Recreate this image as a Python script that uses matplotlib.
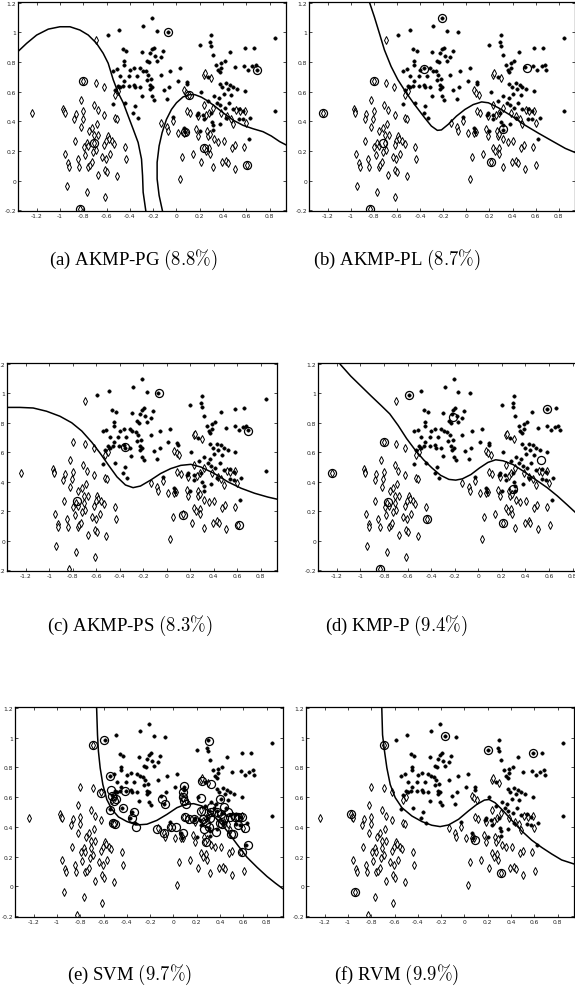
import matplotlib
matplotlib.use('Agg')
import matplotlib.pyplot as plt

plt.rcParams['mathtext.fontset'] = 'cm'

W, H = 575, 995

# ---------------- data ----------------
# class 1 (filled dots)
class1 = [
    (-0.209, 1.094), (-0.286, 1.042), (-0.171, 1.009), (-0.071, 1.002), (-0.490, 1.015), (-0.590, 0.985),
    (-0.463, 0.888), (-0.429, 0.875), (-0.297, 0.866), (-0.214, 0.886), (-0.194, 0.897), (-0.223, 0.859),
    (-0.117, 0.877), (-0.183, 0.844), (-0.137, 0.833), (-0.249, 0.810), (-0.234, 0.801), (-0.171, 0.808),
    (-0.451, 0.804), (-0.449, 0.779), (-0.514, 0.754), (-0.543, 0.741), (-0.366, 0.759), (-0.314, 0.757),
    (-0.291, 0.741), (-0.400, 0.746), (-0.263, 0.737), (-0.243, 0.714), (-0.137, 0.714), (-0.057, 0.741),
    (0.029, 0.757), (-0.486, 0.703), (-0.411, 0.703), (-0.343, 0.703), (-0.449, 0.670), (-0.254, 0.679),
    (-0.217, 0.685), (-0.457, 0.641), (-0.409, 0.641), (-0.363, 0.647), (-0.357, 0.632), (-0.486, 0.632),
    (-0.529, 0.614), (-0.500, 0.640), (-0.314, 0.632), (-0.229, 0.643), (-0.206, 0.632), (-0.223, 0.618),
    (-0.111, 0.609), (-0.060, 0.632), (0.011, 0.670), (0.089, 0.665), (0.094, 0.650), (-0.300, 0.574),
    (-0.206, 0.569), (-0.080, 0.551), (-0.191, 0.547), (-0.440, 0.525), (-0.546, 0.518), (-0.354, 0.502),
    (-0.369, 0.458), (-0.334, 0.424),
    (0.300, 0.982), (0.291, 0.933), (0.297, 0.908), (0.200, 0.917), (0.314, 0.848), (0.460, 0.871),
    (0.586, 0.893), (0.663, 0.897), (0.846, 0.960), (0.343, 0.781), (0.386, 0.792), (0.414, 0.804),
    (0.506, 0.766), (0.580, 0.775), (0.614, 0.748), (0.651, 0.770), (0.680, 0.781), (0.691, 0.748),
    (0.386, 0.759), (0.357, 0.743), (0.371, 0.730), (0.271, 0.699), (0.371, 0.654), (0.429, 0.658),
    (0.463, 0.647), (0.486, 0.632), (0.394, 0.632), (0.440, 0.618), (0.520, 0.618), (0.586, 0.603),
    (0.471, 0.580), (0.406, 0.587), (0.366, 0.556), (0.320, 0.569), (0.211, 0.600), (0.274, 0.540),
    (0.349, 0.525), (0.377, 0.507), (0.451, 0.525), (0.414, 0.491), (0.486, 0.480), (0.537, 0.484),
    (0.571, 0.469), (0.294, 0.458), (0.229, 0.446), (0.186, 0.458), (0.177, 0.446), (0.234, 0.413),
    (0.303, 0.395), (0.314, 0.373), (0.377, 0.384), (0.429, 0.424), (0.537, 0.417), (0.571, 0.413),
    (0.634, 0.424), (0.063, 0.357), (0.074, 0.328), (0.200, 0.335), (0.314, 0.339), (0.623, 0.279),
    (0.849, 0.473), (-0.029, 0.431),
]

# class 0 (open diamonds)
class0 = [
    (-1.237, 0.458), (-0.971, 0.484), (-0.963, 0.469), (-0.960, 0.458), (-0.694, 0.949), (-0.694, 0.658),
    (-0.623, 0.632), (-0.823, 0.547), (-0.800, 0.469), (-0.866, 0.451), (-0.880, 0.413), (-0.806, 0.417),
    (-0.820, 0.362), (-0.709, 0.513), (-0.677, 0.475), (-0.620, 0.446), (-0.529, 0.424), (-0.509, 0.417),
    (-0.686, 0.384), (-0.723, 0.357), (-0.706, 0.306), (-0.671, 0.306), (-0.751, 0.335), (-0.874, 0.268),
    (-0.771, 0.257), (-0.757, 0.234), (-0.706, 0.257), (-0.794, 0.230), (-0.694, 0.208), (-0.720, 0.194),
    (-0.783, 0.174), (-0.954, 0.179), (-0.591, 0.301), (-0.583, 0.283), (-0.606, 0.268), (-0.557, 0.268),
    (-0.534, 0.250), (-0.620, 0.239), (-0.440, 0.230), (-0.571, 0.179), (-0.606, 0.145), (-0.637, 0.161),
    (-0.434, 0.145), (-0.929, 0.116), (-0.923, 0.094), (-0.849, 0.145), (-0.837, 0.094), (-0.757, 0.094),
    (-0.743, 0.107), (-0.729, 0.123), (-0.674, 0.040), (-0.614, 0.074), (-0.597, 0.056), (-0.514, 0.033),
    (-0.943, -0.038), (-0.771, -0.074), (-0.614, -0.112), (-0.831, -0.190), (-0.800, 0.670),
    (-0.529, 0.580), (-0.500, 0.603), (-0.134, 0.391), (-0.080, 0.362), (-0.071, 0.335), (-0.029, 0.402),
    (0.014, 0.324), (0.066, 0.324), (0.080, 0.328), (0.051, 0.161), (0.029, 0.011), (0.066, 0.609),
    (0.086, 0.592), (0.109, 0.580),
    (0.234, 0.714), (0.243, 0.725), (0.300, 0.692), (0.091, 0.469), (0.120, 0.453), (0.186, 0.435),
    (0.257, 0.440), (0.280, 0.458), (0.234, 0.513), (0.314, 0.491), (0.386, 0.458), (0.434, 0.435),
    (0.514, 0.475), (0.543, 0.469), (0.586, 0.473), (0.466, 0.417), (0.486, 0.379), (0.600, 0.391),
    (0.171, 0.346), (0.186, 0.301), (0.263, 0.335), (0.271, 0.301), (0.286, 0.317), (0.320, 0.279),
    (0.357, 0.263), (0.406, 0.268), (0.234, 0.223), (0.251, 0.201), (0.280, 0.217), (0.286, 0.179),
    (0.143, 0.179), (0.214, 0.123), (0.314, 0.089), (0.394, 0.123), (0.429, 0.134), (0.443, 0.118),
    (0.506, 0.078), (0.474, 0.223), (0.500, 0.241), (0.580, 0.230), (0.606, 0.105),
]

# circled (selected basis / support vectors) per panel
circ_a = [(-0.071, 1.002), (0.691, 0.748), (-0.800, 0.670), (-0.706, 0.257), (0.109, 0.580),
          (0.234, 0.223), (0.606, 0.105), (-0.831, -0.190), (0.074, 0.328)]
circ_b = [(-0.209, 1.094), (-0.366, 0.755), (0.521, 0.761), (-0.800, 0.670), (-1.237, 0.458),
          (-0.717, 0.257), (0.214, 0.123), (-0.831, -0.190), (0.321, 0.346)]
circ_c = [(-0.066, 1.000), (-0.351, 0.638), (0.697, 0.744), (-0.760, 0.267), (0.143, 0.178),
          (0.614, 0.104)]
circ_d = [(-0.590, 0.985), (-0.214, 0.838), (0.586, 0.893), (0.533, 0.549), (-0.800, 0.670),
          (-1.237, 0.458), (-0.766, 0.264), (-0.434, 0.145), (0.214, 0.123), (-0.831, -0.190),
          (0.297, 0.349)]
circ_e = [(-0.694, 0.947), (-0.593, 0.984), (0.309, 0.976), (-0.624, 0.629), (-0.543, 0.740),
          (-0.538, 0.651), (-0.529, 0.607), (-0.514, 0.573), (-0.494, 0.584), (-0.543, 0.511),
          (-0.523, 0.429), (-0.506, 0.418), (-0.419, 0.644), (-0.436, 0.524), (-0.341, 0.502),
          (-0.355, 0.462), (-0.321, 0.400), (-0.139, 0.389), (-0.081, 0.362), (-0.095, 0.584),
          (-0.072, 0.556), (-0.017, 0.402), (0.020, 0.402), (0.078, 0.356), (0.092, 0.673),
          (0.084, 0.636), (0.078, 0.602), (0.087, 0.573), (0.107, 0.551), (0.098, 0.467),
          (0.136, 0.451), (0.179, 0.451), (0.237, 0.593), (0.237, 0.507), (0.251, 0.451),
          (0.280, 0.429), (0.324, 0.689), (0.246, 0.711), (0.324, 0.533), (0.318, 0.502),
          (0.312, 0.462), (0.309, 0.396), (0.266, 0.384), (0.280, 0.296), (0.367, 0.369),
          (0.396, 0.584), (0.376, 0.502), (0.410, 0.484), (0.434, 0.533), (0.434, 0.462),
          (0.468, 0.502), (0.483, 0.467), (0.526, 0.467), (0.555, 0.467), (0.584, 0.467),
          (0.555, 0.413), (0.491, 0.351), (0.512, 0.351), (0.584, 0.229), (0.642, 0.280),
          (0.618, 0.391), (0.396, 0.429), (0.416, 0.418)]
circ_f = [(-0.171, 1.009), (-0.694, 0.949), (0.200, 0.917), (0.586, 0.893), (-0.971, 0.484),
          (-0.943, -0.038), (0.314, 0.089), (0.091, 0.311)]

# decision boundaries
bound_a1 = [(-1.36, 0.871), (-1.286, 0.926), (-1.2, 0.982), (-1.1, 1.022), (-1.0, 1.038), (-0.914, 1.038),
            (-0.829, 1.016), (-0.757, 0.982), (-0.686, 0.926), (-0.629, 0.859), (-0.586, 0.792),
            (-0.543, 0.681), (-0.5, 0.592), (-0.457, 0.525), (-0.414, 0.435), (-0.371, 0.346),
            (-0.329, 0.257), (-0.3, 0.145), (-0.291, 0.033), (-0.286, -0.078), (-0.263, -0.205)]
bound_a2 = [(-0.12, -0.205), (-0.149, -0.1), (-0.166, 0.011), (-0.166, 0.123), (-0.149, 0.234),
            (-0.123, 0.324), (-0.086, 0.413), (-0.043, 0.480), (0.0, 0.525), (0.057, 0.565),
            (0.114, 0.580), (0.157, 0.580), (0.214, 0.563), (0.271, 0.536), (0.329, 0.502),
            (0.4, 0.458), (0.486, 0.408), (0.571, 0.373), (0.657, 0.350), (0.743, 0.330),
            (0.814, 0.301), (0.886, 0.263), (0.94, 0.241)]
bound_b = [(-0.838, 1.205), (-0.795, 1.105), (-0.751, 0.993), (-0.708, 0.882), (-0.650, 0.770),
           (-0.592, 0.681), (-0.519, 0.592), (-0.447, 0.513), (-0.360, 0.424), (-0.302, 0.368),
           (-0.250, 0.339), (-0.215, 0.342), (-0.157, 0.379), (-0.085, 0.435), (-0.012, 0.480),
           (0.060, 0.513), (0.133, 0.531), (0.191, 0.525), (0.278, 0.491), (0.394, 0.435),
           (0.510, 0.373), (0.626, 0.319), (0.741, 0.268), (0.857, 0.217), (0.94, 0.190)]
bound_c = [(-1.36, 0.904), (-1.251, 0.904), (-1.137, 0.900), (-1.023, 0.878), (-0.909, 0.844),
           (-0.809, 0.800), (-0.723, 0.744), (-0.637, 0.667), (-0.566, 0.593), (-0.494, 0.511),
           (-0.423, 0.433), (-0.351, 0.378), (-0.286, 0.360), (-0.223, 0.371), (-0.137, 0.411),
           (-0.051, 0.456), (0.034, 0.489), (0.120, 0.511), (0.206, 0.518), (0.291, 0.500),
           (0.406, 0.456), (0.520, 0.400), (0.634, 0.356), (0.749, 0.322), (0.863, 0.296),
           (0.94, 0.282)]
bound_d = [(-1.20, 1.23), (-1.168, 1.193), (-1.082, 1.116), (-0.996, 1.049), (-0.910, 0.982),
           (-0.823, 0.916), (-0.751, 0.860), (-0.680, 0.782), (-0.608, 0.693), (-0.536, 0.616),
           (-0.464, 0.549), (-0.392, 0.493), (-0.320, 0.444), (-0.249, 0.416), (-0.191, 0.411),
           (-0.134, 0.420), (-0.062, 0.449), (0.010, 0.493), (0.082, 0.531), (0.148, 0.549),
           (0.211, 0.542), (0.297, 0.516), (0.384, 0.471), (0.484, 0.416), (0.585, 0.360),
           (0.671, 0.304), (0.757, 0.242), (0.838, 0.182), (0.94, 0.110)]
bound_e = [(-0.66, 1.21), (-0.652, 1.018), (-0.644, 0.907), (-0.629, 0.796), (-0.606, 0.684),
           (-0.572, 0.584), (-0.529, 0.518), (-0.472, 0.467), (-0.400, 0.436), (-0.314, 0.413),
           (-0.228, 0.418), (-0.142, 0.444), (-0.056, 0.484), (0.030, 0.529), (0.101, 0.551),
           (0.173, 0.556), (0.245, 0.540), (0.316, 0.496), (0.388, 0.440), (0.460, 0.373),
           (0.545, 0.284), (0.631, 0.196), (0.717, 0.129), (0.803, 0.067), (0.875, 0.022),
           (0.94, -0.016)]
bound_f = [(-0.71, 1.21), (-0.703, 1.018), (-0.686, 0.907), (-0.666, 0.796), (-0.637, 0.684),
           (-0.594, 0.596), (-0.537, 0.529), (-0.451, 0.473), (-0.366, 0.436), (-0.280, 0.411),
           (-0.209, 0.402), (-0.137, 0.413), (-0.051, 0.451), (0.034, 0.507), (0.106, 0.551),
           (0.171, 0.580), (0.211, 0.584), (0.263, 0.562), (0.334, 0.507), (0.406, 0.444),
           (0.491, 0.373), (0.577, 0.311), (0.663, 0.262), (0.749, 0.218), (0.834, 0.178),
           (0.94, 0.151)]

captions = [r"(a) AKMP-PG $(8.8\%)$", r"(b) AKMP-PL $(8.7\%)$", r"(c) AKMP-PS $(8.3\%)$",
            r"(d) KMP-P $(9.4\%)$", r"(e) SVM $(9.7\%)$", r"(f) RVM $(9.9\%)$"]

xticks = [-1.2, -1.0, -0.8, -0.6, -0.4, -0.2, 0.0, 0.2, 0.4, 0.6, 0.8]
xticklabels = ["-1.2", "-1", "-0.8", "-0.6", "-0.4", "-0.2", "0", "0.2", "0.4", "0.6", "0.8"]
yticks = [-0.2, 0.0, 0.2, 0.4, 0.6, 0.8, 1.0, 1.2]
yticklabels = ["-0.2", "0", "0.2", "0.4", "0.6", "0.8", "1", "1.2"]

# ---------------- layout (pixels: left, top, width, height) ----------------
panels = [
    dict(rect=(18, 3, 268, 209), circ=circ_a, bounds=[bound_a1, bound_a2], cap=(133, 260)),
    dict(rect=(309, 3, 266, 209), circ=circ_b, bounds=[bound_b], cap=(397, 260)),
    dict(rect=(7, 364, 270, 208), circ=circ_c, bounds=[bound_c], cap=(130, 626)),
    dict(rect=(318, 364, 271, 208), circ=circ_d, bounds=[bound_d], cap=(396, 626)),
    dict(rect=(15, 708, 268, 210), circ=circ_e, bounds=[bound_e], cap=(130, 975)),
    dict(rect=(306, 708, 268, 210), circ=circ_f, bounds=[bound_f], cap=(397, 975)),
]

fig = plt.figure(figsize=(W / 100, H / 100), dpi=100)

x0 = [p[0] for p in class0]; y0 = [p[1] for p in class0]
x1 = [p[0] for p in class1]; y1 = [p[1] for p in class1]

for p, cap in zip(panels, captions):
    l, t, w, h = p['rect']
    ax = fig.add_axes([l / W, 1 - (t + h) / H, w / W, h / H])
    ax.plot(x0, y0, linestyle='none', marker='d', ms=4.2, mfc='white', mec='black', mew=0.7)
    ax.plot(x1, y1, linestyle='none', marker='o', ms=2.5, mfc='black', mec='black', mew=0.3)
    cx = [q[0] for q in p['circ']]; cy = [q[1] for q in p['circ']]
    ax.plot(cx, cy, linestyle='none', marker='o', ms=5.8, mfc='none', mec='black', mew=0.9)
    for bnd in p['bounds']:
        ax.plot([q[0] for q in bnd], [q[1] for q in bnd], color='black', lw=1.1)
    ax.set_xlim(-1.36, 0.94)
    ax.set_ylim(-0.205, 1.205)
    ax.set_xticks(xticks)
    ax.set_xticklabels(xticklabels)
    ax.set_yticks(yticks)
    ax.set_yticklabels(yticklabels)
    ax.tick_params(direction='in', length=2, width=0.5, top=True, right=True,
                   labelsize=4.3, pad=1.5, labelcolor='#222222')
    for s in ax.spines.values():
        s.set_linewidth(0.9)
    cxp, cyp = p['cap']
    fig.text(cxp / W, 1 - cyp / H, cap, ha='center', va='center', fontsize=13.5,
             family='Liberation Serif')

fig.savefig('out.png', dpi=100)
